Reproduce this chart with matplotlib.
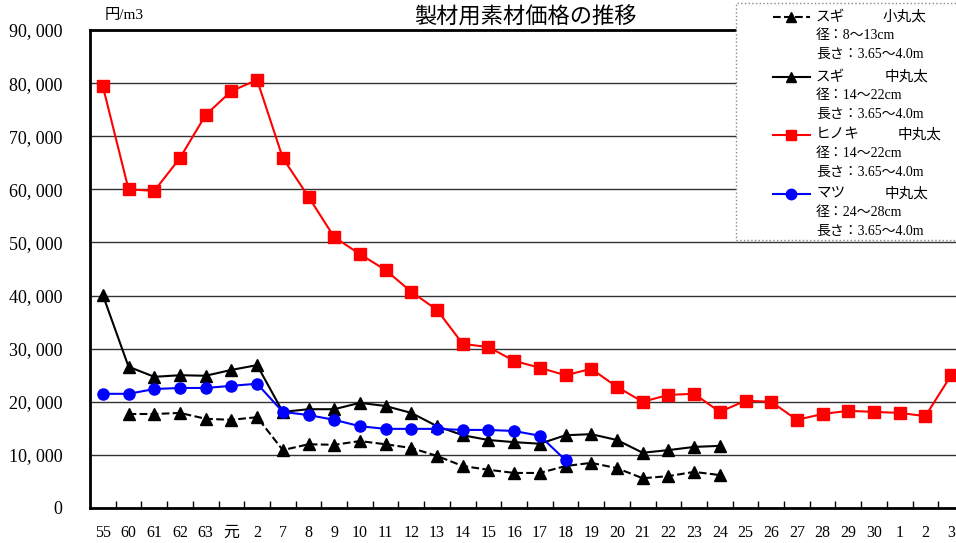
import matplotlib
matplotlib.use("Agg")
import matplotlib.pyplot as plt
from matplotlib.lines import Line2D
from matplotlib.patches import Rectangle
import numpy as np

plt.rcParams["font.family"] = ["Liberation Serif", "Noto Sans CJK JP"]

years = ["55", "60", "61", "62", "63", "元", "2", "7", "8", "9", "10", "11", "12", "13",
         "14", "15", "16", "17", "18", "19", "20", "21", "22", "23", "24", "25", "26",
         "27", "28", "29", "30", "1", "2", "3"]

hinoki = [79400, 60000, 59700, 65900, 74000, 78500, 80600, 65900, 58600, 51000, 47800,
          44800, 40700, 37300, 30900, 30300, 27700, 26400, 25000, 26200, 22800, 20000,
          21300, 21500, 18100, 20200, 20000, 16600, 17700, 18300, 18100, 17900, 17300, 25000]

sugi_mid = [40100, 26600, 24700, 25000, 24900, 26000, 26900, 18100, 18600, 18600, 19800,
            19200, 17900, 15400, 13700, 12800, 12400, 12100, 13700, 13900, 12800, 10400,
            10900, 11500, 11700]

sugi_small = [None, 17700, 17700, 17900, 16800, 16600, 17100, 10900, 12000, 11900, 12600,
              12000, 11300, 9800, 7900, 7200, 6600, 6600, 7900, 8500, 7500, 5600, 6000,
              6800, 6200]

matsu = [21500, 21500, 22400, 22600, 22600, 23000, 23400, 18100, 17500, 16600, 15400,
         14900, 14900, 14900, 14700, 14700, 14500, 13600, 9000]

legend_rows = [
    ("スギ", "小丸太", "径：8～13cm"),
    ("スギ", "中丸太", "径：14～22cm"),
    ("ヒノキ", "中丸太", "径：14～22cm"),
    ("マツ", "中丸太", "径：24～28cm"),
]


def series(vals):
    return np.array([np.nan if v is None else v for v in vals], dtype=float)


W, H = 956, 543
fig = plt.figure(figsize=(W / 100, H / 100), dpi=100)
ax = fig.add_axes([90 / W, 1 - 508 / H, 874 / W, 478 / H])

x = np.arange(len(years))
styles = [
    (sugi_small, "black", "--", "^"),
    (sugi_mid, "black", "-", "^"),
    (hinoki, "#ff0000", "-", "s"),
    (matsu, "#0000ff", "-", "o"),
]
for vals, color, ls, mk in styles:
    y = series(vals)
    ax.plot(x[:len(y)], y, color=color, linestyle=ls, linewidth=1.5, marker=mk,
            markersize=8, zorder=3)

ax.set_xlim(-0.5, len(years) - 0.5)
ax.set_ylim(0, 90000)
ax.set_yticks(np.arange(0, 90001, 10000))
ax.set_yticklabels(["0"] + [f"{v:,}".replace(",", ", ") for v in range(10000, 90001, 10000)],
                   fontsize=13)
ax.set_xticks(x)
ax.set_xticklabels(years, fontsize=11.5)
ax.set_xticks(np.arange(0.5, len(years) - 0.5, 1), minor=True)
ax.tick_params(axis="x", which="major", length=0, pad=12)
ax.tick_params(axis="x", which="minor", direction="in", length=5, width=1)
ax.tick_params(axis="y", length=0, pad=20)
ax.grid(axis="y", color="#333333", linewidth=1)
ax.set_axisbelow(True)
for side in ["left", "bottom", "top"]:
    ax.spines[side].set_linewidth(2)
ax.spines["right"].set_visible(False)

fig.text(525 / W, 1 - 18 / H, "製材用素材価格の推移", ha="center", va="center", fontsize=16)
fig.text(105 / W, 1 - 15 / H, "円/m3", ha="left", va="center", fontsize=11)

# legend box
fig.add_artist(Rectangle((736 / W, 1 - 240 / H), 225 / W, 237 / H, transform=fig.transFigure,
                         fill=True, facecolor="white", edgecolor="#888888",
                         linestyle=":", linewidth=1, zorder=5))
row_tops = [17, 77, 135, 194]
kind_x = [883, 885, 898, 885]
for (name, kind, dia), (vals, color, ls, mk), top, kx in zip(legend_rows, styles, row_tops, kind_x):
    yl = 1 - top / H
    fig.add_artist(Line2D([773 / W, 810 / W], [yl, yl], transform=fig.transFigure,
                          color=color, linestyle=ls, linewidth=1.5, zorder=6))
    fig.add_artist(Line2D([791 / W], [yl], transform=fig.transFigure, color=color,
                          marker=mk, markersize=7.5, zorder=6))
    fig.text(816 / W, yl, name, ha="left", va="center", fontsize=10.5, zorder=6)
    fig.text(kx / W, yl, kind, ha="left", va="center", fontsize=10.5, zorder=6)
    fig.text(816 / W, yl - 18.5 / H, dia, ha="left", va="center", fontsize=10, zorder=6)
    fig.text(816 / W, yl - 37 / H, "長さ：3.65～4.0m", ha="left", va="center",
             fontsize=10, zorder=6)

fig.savefig("out.png", dpi=100)
